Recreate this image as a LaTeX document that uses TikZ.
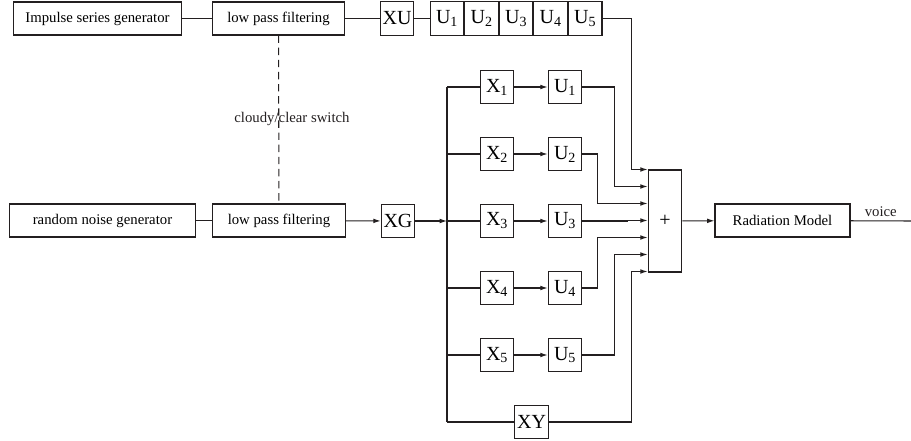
\documentclass[tikz,border=0pt]{standalone}
\usepackage{fontspec}
\setmainfont{Liberation Serif}
\usetikzlibrary{arrows.meta,positioning,calc}
\definecolor{ink}{RGB}{35,31,32}
\tikzset{
  >={Latex[length=7pt,width=4.5pt]},
  wire/.style={draw=ink,line width=1pt},
  flow/.style={->,wire},
  block/.style={draw=ink,line width=1pt,minimum width=#1,minimum height=1.1cm,
    inner sep=0pt,font=\fontsize{14}{16}\selectfont},
  block/.default=4.43cm,
  cell/.style={draw=ink,line width=1pt,minimum width=1.12cm,minimum height=1.12cm,
    inner sep=0pt,font=\fontsize{19}{21}\selectfont},
  tag/.style={font=\fontsize{14}{16}\selectfont,text=ink},
}

\begin{document}
\begin{tikzpicture}[x=0.033333cm,y=-0.033333cm]
    \useasboundingbox (0,0) rectangle (911,441);
    % voiced branch
    \node[block=5.57cm] (imp) at (97.5,18.5) {Impulse series generator};
    \node[block] (lpu) at (278.5,18.5) {low pass filtering};
    \node[cell] (xu) at (397,18.5) {XU};
    \node[cell,minimum width=1.117cm] (ser1) at (447,18.5) {U\textsubscript{1}};
    \foreach \i [remember=\i as \j (initially 1)] in {2,...,5}
      \node[cell,minimum width=1.117cm,right=0pt of ser\j] (ser\i) {U\textsubscript{\i}};
    \draw[wire] (imp) -- (lpu);
    \draw[wire] (lpu) -- (xu);
    \draw[wire] (xu) -- (ser1);
    % noise branch
    \node[block=6.17cm] (noise) at (102.5,220.5) {random noise generator};
    \node[block] (lpg) at (279,220.5) {low pass filtering};
    \node[cell] (xg) at (398,221) {XG};
    \draw[wire] (noise) -- (lpg);
    \draw[flow] (lpg) -- (xg);
    \draw[wire,dash pattern=on 7pt off 4.5pt] (lpu) -- (lpg);
    \node[tag] (sw) at (292,119) {cloudy/clear switch};
    % summing point and output
    \node[cell,minimum height=3.4cm] (sum) at (665,221) {+};
    \foreach \k in {1,...,7}
      \coordinate (in\k) at ($(sum.north west)+(0,{17*(\k-1)})$);
    \node[block=4.5cm] (rad) at (782.5,220.5) {Radiation Model};
    \coordinate (voice) at (911,221);
    \draw[flow] (sum) -- (rad);
    \draw[wire] (rad) -- node[tag,above] (vl) {voice} (voice);
    % parallel filters
    \foreach \i in {1,...,5}{
      \coordinate (bus\i) at (447,{87+67*(\i-1)});
      \node[cell] (x\i) at (497,{87+67*(\i-1)}) {X\textsubscript{\i}};
      \node[cell] (u\i) at (565,{87+67*(\i-1)}) {U\textsubscript{\i}};
      \draw[wire] (bus\i) -- (x\i);
      \draw[flow] (x\i) -- (u\i);
    }
    \coordinate (bus6) at (447,422);
    \node[cell] (xy) at (531.5,422) {XY};
    \draw[wire] (bus1) -- (bus6);
    \draw[wire] (bus6) -- (xy);
    \draw[flow] (xg) -- (bus3);
    \foreach \i/\k/\d in {1/2/33,2/3/50,3/4/20,4/5/50,5/6/33}
      \draw[flow] (u\i.east) -| ($(in\k)+(-\d,0)$) -- (in\k);
    \draw[flow] (ser5.east) -| ($(in1)+(-16,0)$) -- (in1);
    \draw[flow] (xy.east) -| ($(in7)+(-16,0)$) -- (in7);
\end{tikzpicture}
\end{document}
